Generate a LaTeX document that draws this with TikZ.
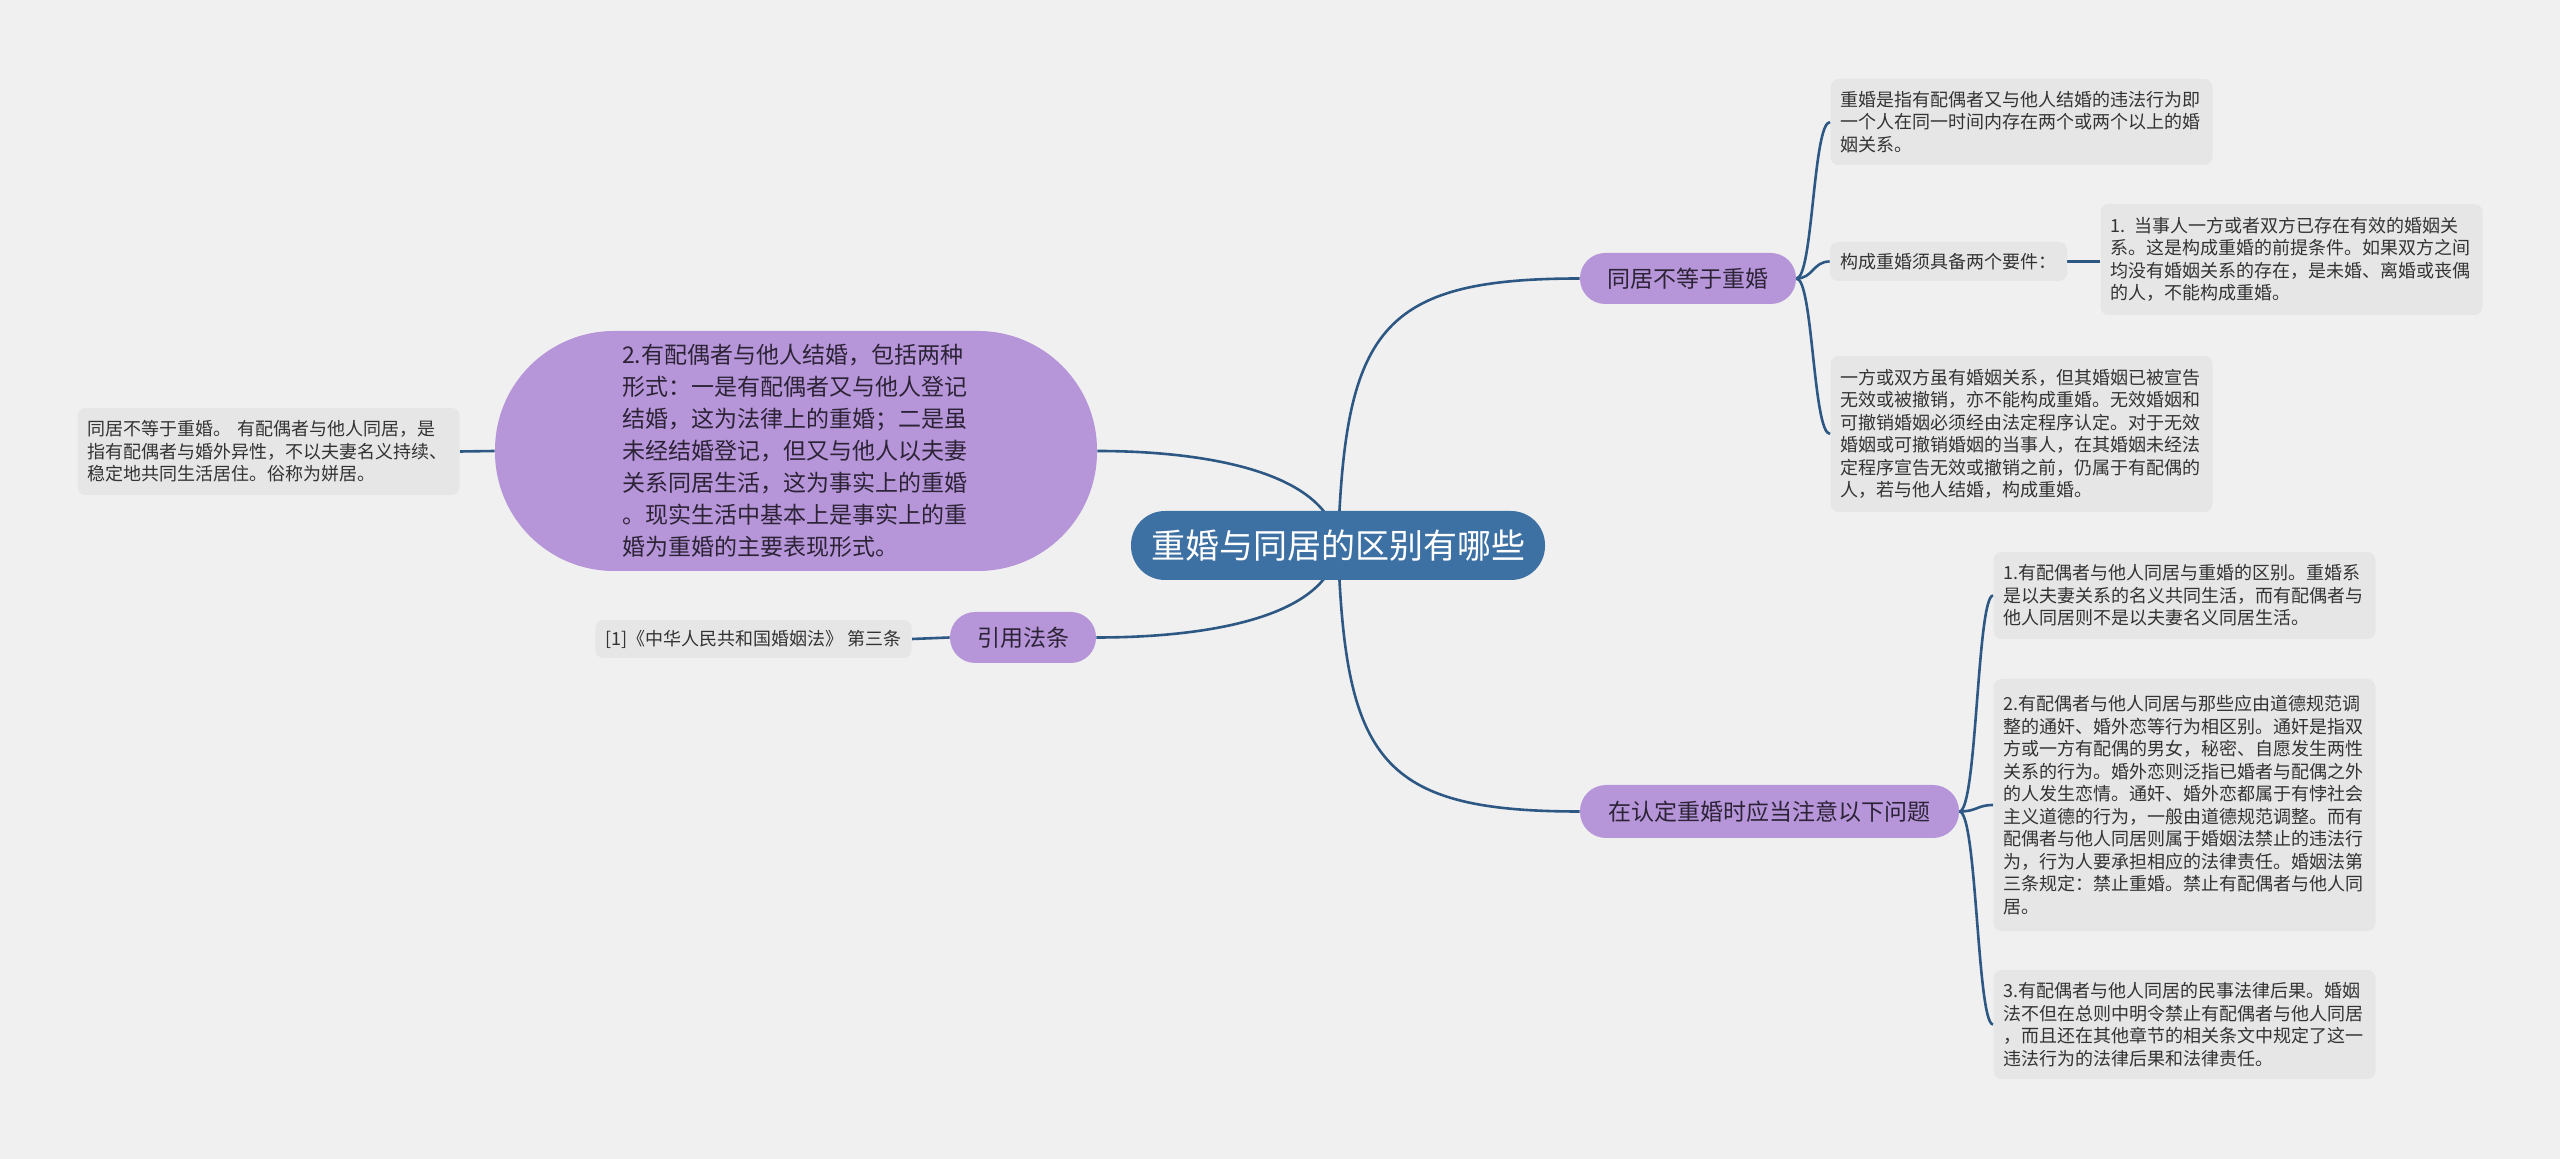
\documentclass[tikz,border=0pt]{standalone}
\usepackage{fontspec}
\newfontfamily\cjk{Noto Sans CJK SC}
\usetikzlibrary{backgrounds}
\definecolor{bgc}{RGB}{240,240,240}
\definecolor{leafc}{RGB}{230,230,230}
\definecolor{purp}{RGB}{182,150,217}
\definecolor{cblue}{RGB}{62,113,163}
\definecolor{linec}{RGB}{46,88,132}
\definecolor{txt}{RGB}{51,51,51}
\definecolor{ttxt}{RGB}{45,35,55}
\begin{document}
\begin{tikzpicture}[x=0.5pt,y=-0.5pt,
  conn/.style={draw=linec,line width=1.3pt},
  leaf/.style={fill=leafc,rounded corners=4pt,text=txt,font=\cjk\fontsize{9}{11.25}\selectfont,inner xsep=5pt,inner ysep=0pt},
  leafw/.style={leaf,text width=181pt,align=left},
  topic/.style={fill=purp,text=ttxt,font=\cjk\fontsize{11.5}{14}\selectfont,inner sep=0pt,minimum height=25.5pt,rounded corners=12.6pt},
  central/.style={fill=cblue,text=white,font=\cjk\fontsize{17}{20}\selectfont,inner sep=0pt,minimum height=34.5pt,rounded corners=17pt}
  ]
\useasboundingbox (0,0) rectangle (2560,1159);

% central and topics
\node[central,minimum width=207pt] (c) at (1338,545.5) {重婚与同居的区别有哪些};
\node[topic,minimum width=108pt] (t1) at (1688,278.5) {同居不等于重婚};
\node[topic,minimum width=189.5pt,minimum height=26.5pt,rounded corners=13pt] (t2) at (1769.5,811.5) {在认定重婚时应当注意以下问题};
\node[topic,minimum width=73pt] (t3) at (1023,637.5) {引用法条};
\node[topic,minimum width=301pt,minimum height=120pt,rounded corners=59.5pt,text width=174pt,align=left,font=\cjk\fontsize{11.5}{16}\selectfont] (big) at (796,451) {2.有配偶者与他人结婚，包括两种\\形式：一是有配偶者又与他人登记\\结婚，这为法律上的重婚；二是虽\\未经结婚登记，但又与他人以夫妻\\关系同居生活，这为事实上的重婚\\。现实生活中基本上是事实上的重\\婚为重婚的主要表现形式。};

% leaves
\node[leafw,minimum height=43.5pt] (ll) at (268.5,451.5) {同居不等于重婚。 有配偶者与他人同居，是\\指有配偶者与婚外异性，不以夫妻名义持续、\\稳定地共同生活居住。俗称为姘居。};
\node[leaf,minimum width=157.5pt,minimum height=19pt] (cite) at (753.5,639) {[1]《中华人民共和国婚姻法》 第三条};

\node[leafw,minimum height=43pt] (r1) at (2021.5,122) {重婚是指有配偶者又与他人结婚的违法行为即\\一个人在同一时间内存在两个或两个以上的婚\\姻关系。};
\node[leaf,minimum width=118.5pt,minimum height=19.5pt] (r2) at (1948.5,261.5) {构成重婚须具备两个要件：};
\node[leafw,minimum height=55.5pt] (r3) at (2291.5,259.5) {1. 当事人一方或者双方已存在有效的婚姻关\\系。这是构成重婚的前提条件。如果双方之间\\均没有婚姻关系的存在，是未婚、离婚或丧偶\\的人，不能构成重婚。};
\node[leafw,minimum height=78pt] (r4) at (2021.5,434) {一方或双方虽有婚姻关系，但其婚姻已被宣告\\无效或被撤销，亦不能构成重婚。无效婚姻和\\可撤销婚姻必须经由法定程序认定。对于无效\\婚姻或可撤销婚姻的当事人，在其婚姻未经法\\定程序宣告无效或撤销之前，仍属于有配偶的\\人，若与他人结婚，构成重婚。};

\node[leafw,minimum height=43.5pt] (s1) at (2184.5,595.5) {1.有配偶者与他人同居与重婚的区别。重婚系\\是以夫妻关系的名义共同生活，而有配偶者与\\他人同居则不是以夫妻名义同居生活。};
\node[leafw,minimum height=126pt] (s2) at (2184.5,805) {2.有配偶者与他人同居与那些应由道德规范调\\整的通奸、婚外恋等行为相区别。通奸是指双\\方或一方有配偶的男女，秘密、自愿发生两性\\关系的行为。婚外恋则泛指已婚者与配偶之外\\的人发生恋情。通奸、婚外恋都属于有悖社会\\主义道德的行为，一般由道德规范调整。而有\\配偶者与他人同居则属于婚姻法禁止的违法行\\为，行为人要承担相应的法律责任。婚姻法第\\三条规定：禁止重婚。禁止有配偶者与他人同\\居。};
\node[leafw,minimum height=54.5pt] (s3) at (2184.5,1024.5) {3.有配偶者与他人同居的民事法律后果。婚姻\\法不但在总则中明令禁止有配偶者与他人同居\\，而且还在其他章节的相关条文中规定了这一\\违法行为的法律后果和法律责任。};

\begin{pgfonlayer}{background}
\fill[bgc] (0,0) rectangle (2560,1159);
% central connectors
\draw[conn] (c.center) .. controls (1345,330) and (1380,278.5) .. (t1.west);
\draw[conn] (c.center) .. controls (1345,760) and (1380,811.5) .. (t2.west);
\draw[conn] (c.center) .. controls (1330,470) and (1200,451) .. (big.east);
\draw[conn] (c.center) .. controls (1330,620) and (1200,637.5) .. (t3.east);
% left side
\draw[conn] (big.west) -- (ll.east);
\draw[conn] (t3.west) -- (cite.east);
% t1 children
\draw[conn] (t1.east) .. controls (1813,278.5) and (1813,122) .. (r1.west);
\draw[conn] (t1.east) .. controls (1813,278.5) and (1813,261.5) .. (r2.west);
\draw[conn] (t1.east) .. controls (1813,278.5) and (1813,434) .. (r4.west);
\draw[conn] (r2.east) -- (r3.west |- r2.east);
% t2 children
\draw[conn] (t2.east) .. controls (1977,811.5) and (1977,595.5) .. (s1.west);
\draw[conn] (t2.east) .. controls (1977,811.5) and (1977,805) .. (s2.west);
\draw[conn] (t2.east) .. controls (1977,811.5) and (1977,1024.5) .. (s3.west);
\end{pgfonlayer}
\end{tikzpicture}
\end{document}
